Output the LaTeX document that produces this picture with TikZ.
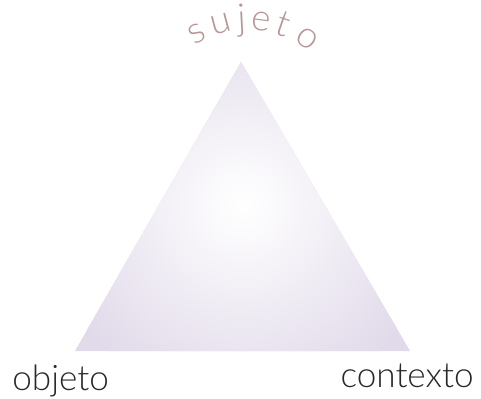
\documentclass[tikz,border=0pt]{standalone}
\usepackage{fontspec}
\setmainfont{Lato}
\newfontfamily\ligera{Lato Light}
\usepackage{xcolor}
\usetikzlibrary{calc}
\definecolor{lavanda}{RGB}{225,218,234}
\definecolor{rosado}{RGB}{184,150,152}
\definecolor{gristexto}{RGB}{40,40,40}
\tikzset{
    esquina/.style={font=\ligera\fontsize{20}{24}\selectfont, text=gristexto, inner sep=0pt},
    letra/.style={font=\ligera\fontsize{21}{24}\selectfont, text=rosado, anchor=base, inner sep=0pt}
}

\begin{document}
\begin{tikzpicture}[x=0.02cm, y=-0.02cm]
    \useasboundingbox (0,0) rectangle (481,399);
    \coordinate (cima) at (241,62);
    \coordinate (izq) at (75,351);
    \coordinate (der) at (410,351);
    \coordinate (arco) at (248,126);
    \fill[lavanda] (cima) -- (izq) -- (der) -- cycle;
    \begin{scope}
        \clip (cima) -- (izq) -- (der) -- cycle;
        \shade[inner color=white, outer color=lavanda] (243,205) circle (200);
    \end{scope}
    \foreach \ch/\ang [count=\i] in {s/-29, u/-15, j/-3, e/7, t/19, o/34}
        \node[letra, rotate=-\ang] (suj\i) at ($(arco)+(\ang-90:96)$) {\ch};
    \node[esquina, anchor=base west] (objeto) at (12,390) {objeto};
    \node[esquina, anchor=base east] (contexto) at (474,387) {contexto};
\end{tikzpicture}
\end{document}
